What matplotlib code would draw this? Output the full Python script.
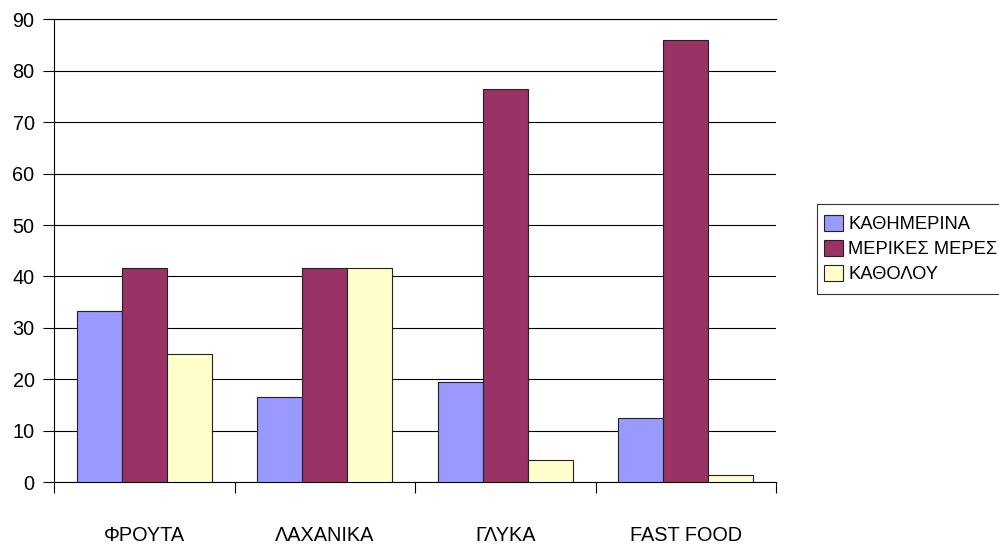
import matplotlib
matplotlib.use("Agg")
import matplotlib.pyplot as plt
import matplotlib.patches as mpatches
import numpy as np

# data
categories = ['ΦΡΟΥΤΑ', 'ΛΑΧΑΝΙΚΑ', 'ΓΛΥΚΑ', 'FAST FOOD']
series_names = ['ΚΑΘΗΜΕΡΙΝΑ', 'ΜΕΡΙΚΕΣ ΜΕΡΕΣ', 'ΚΑΘΟΛΟΥ']
daily = [33.3, 16.6, 19.4, 12.5]
some_days = [41.7, 41.7, 76.4, 86.1]
never = [25.0, 41.7, 4.2, 1.4]
y_ticks = [0, 10, 20, 30, 40, 50, 60, 70, 80, 90]

colors = ['#9999FF', '#993366', '#FFFFCC']

plt.rcParams['font.family'] = ['Liberation Sans', 'DejaVu Sans']

W, H = 999, 547
fig = plt.figure(figsize=(W / 100, H / 100), dpi=100)
ax = fig.add_axes([54 / W, 65 / H, 722 / W, 462.5 / H])

x = np.arange(len(categories))
width = 0.25
for i, (vals, name) in enumerate(zip([daily, some_days, never], series_names)):
    ax.bar(x + (i - 1) * width, vals, width, color=colors[i], edgecolor='#222222',
           linewidth=0.8, label=name, zorder=3)

ax.set_xlim(-0.5, len(categories) - 0.5)
ax.set_ylim(0, 90)
ax.set_yticks(y_ticks)
ax.yaxis.grid(True, color='black', linewidth=0.8)
ax.set_axisbelow(True)
# top gridline sits on the axes edge, keep it from being clipped
ax.axhline(y_ticks[-1], color='black', linewidth=0.8, clip_on=False, zorder=1)

ax.spines['top'].set_visible(False)
ax.spines['right'].set_visible(False)
ax.spines['left'].set_linewidth(0.8)
ax.spines['bottom'].set_linewidth(0.8)

ax.set_xticks(x)
ax.set_xticklabels(categories)
ax.set_xticks(np.arange(-0.5, len(categories)), minor=True)
ax.tick_params(axis='x', which='major', length=0, pad=32, labelsize=14.3)
ax.tick_params(axis='x', which='minor', length=8, width=0.8, direction='out')
ax.tick_params(axis='y', length=8, width=0.8, pad=6, labelsize=14.3)

# legend box runs off the right edge of the picture in the original
frame = mpatches.Rectangle((817 / W, 1 - 294 / H), 200 / W, 90 / H,
                           transform=fig.transFigure, facecolor='white',
                           edgecolor='#333333', linewidth=0.8, zorder=0)
fig.patches.append(frame)
fig.legend(loc='center left', bbox_to_anchor=(820 / W, 1 - 249 / H),
           fontsize=13.2, frameon=False,
           handlelength=1.05, handleheight=0.95, handletextpad=0.3,
           labelspacing=0.38, borderpad=0.2, borderaxespad=0)

fig.savefig('out.png', dpi=100)
